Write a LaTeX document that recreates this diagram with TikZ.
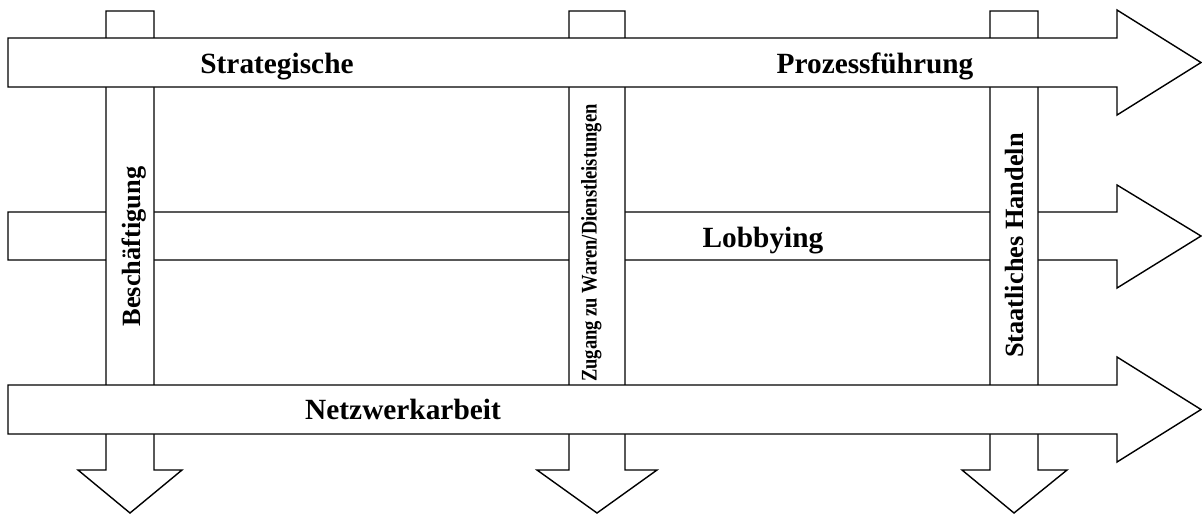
\documentclass[tikz,border=0pt]{standalone}
\usepackage{graphicx}
\usepackage{fontspec}
\setmainfont{Liberation Serif}
\usepackage{tikz}
\newcommand{\bigtxt}{\fontsize{16.7}{20}\selectfont\bfseries}
\newcommand{\midtxt}{\fontsize{15}{18}\selectfont\bfseries}

\begin{document}
\begin{tikzpicture}[x=0.02cm, y=-0.02cm]
      \useasboundingbox (0,0) rectangle (1202,514);
      \draw [thick, fill=white] (8,212) -- (1117,212) -- (1117,185) -- (1201,236) -- (1117,288) -- (1117,260) -- (8,260) -- cycle;
      \draw [thick, fill=white] (106,11) -- (154,11) -- (154,470) -- (182,470) -- (130,513) -- (78,470) -- (106,470) -- cycle;
      \draw [thick, fill=white] (569,11) -- (625,11) -- (625,470) -- (657,470) -- (597,513) -- (537,470) -- (569,470) -- cycle;
      \draw [thick, fill=white] (990,11) -- (1038,11) -- (1038,470) -- (1067,470) -- (1014,513) -- (962,470) -- (990,470) -- cycle;
      \draw [thick, fill=white] (8,38) -- (1117,38) -- (1117,10) -- (1201,62.5) -- (1117,115) -- (1117,87) -- (8,87) -- cycle;
      \draw [thick, fill=white] (8,385) -- (1117,385) -- (1117,357) -- (1201,409.5) -- (1117,462) -- (1117,434) -- (8,434) -- cycle;
      \node [anchor=base, font=\bigtxt] (strat) at (277,73) {Strategische};
      \node [anchor=base, font=\bigtxt] (prozess) at (875,73) {Prozessführung};
      \node [anchor=base, font=\bigtxt] (lobby) at (763,247) {Lobbying};
      \node [anchor=base, font=\bigtxt] (netz) at (403,419) {Netzwerkarbeit};
      \node [anchor=base, rotate=90, font=\midtxt] (besch) at (140,246.5) {Beschäftigung};
      \node [anchor=base, rotate=90, font=\fontsize{12.7}{15}\selectfont\bfseries] (zugang) at (596.5,243) {\scalebox{0.83}[1]{Zugang zu Waren/Dienstleistungen}};
      \node [anchor=base, rotate=90, font=\midtxt] (staat) at (1023,245.5) {Staatliches Handeln};
   \end{tikzpicture}
\end{document}
